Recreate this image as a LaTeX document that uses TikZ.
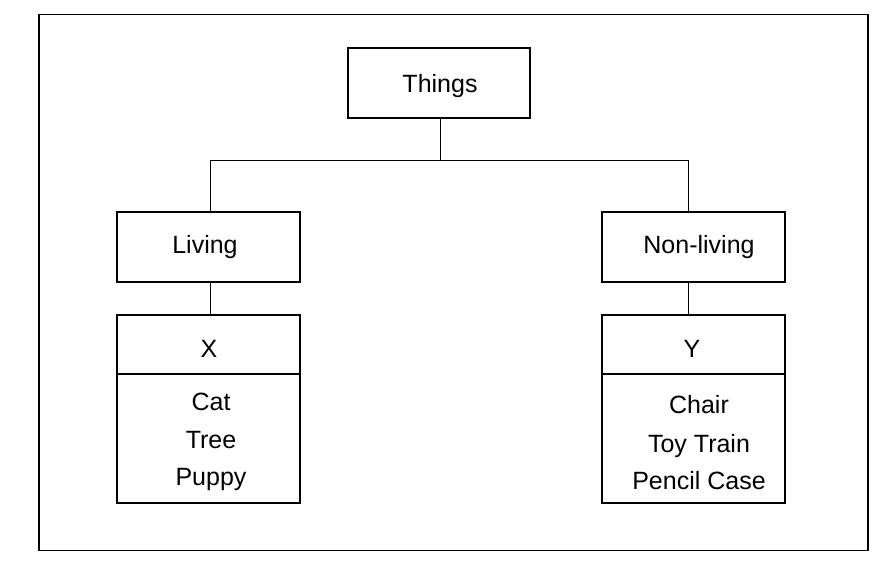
\documentclass[tikz,border=0pt]{standalone}
\usepackage{fontspec}
\setmainfont{Liberation Sans}
\begin{document}
\begin{tikzpicture}[x=1pt,y=-1pt,
  box/.style={draw,line width=2pt,rectangle,inner sep=0pt},
  lbl/.style={font=\fontsize{25}{29}\selectfont,inner sep=0pt},
  item/.style={font=\fontsize{25}{29}\selectfont,inner sep=0pt,anchor=base},
  conn/.style={line width=1pt}]
\useasboundingbox (0,0) rectangle (885,564);
\node[draw,line width=1.2pt,minimum width=829pt,minimum height=536pt,inner sep=0pt] (frame) at (453.5,282.5) {};
\node[box,minimum width=182pt,minimum height=70pt] (things) at (439,83) {};
\node[lbl] (thingst) at (440,86) {Things};
\node[box,minimum width=183pt,minimum height=70pt] (living) at (208.5,247) {};
\node[lbl] (livingt) at (205,247) {Living};
\node[box,minimum width=183pt,minimum height=70pt] (nonliving) at (693.5,247) {};
\node[lbl] (nonlivingt) at (699,247) {Non-living};
\node[box,minimum width=183pt,minimum height=59pt] (xh) at (208.5,344.5) {};
\node[box,minimum width=183pt,minimum height=129pt] (xb) at (208.5,438.5) {};
\node[lbl] (xt) at (209,349) {X};
\node[item] (cat) at (211,410) {Cat};
\node[item] (tree) at (211,448) {Tree};
\node[item] (puppy) at (211,485) {Puppy};
\node[box,minimum width=183pt,minimum height=59pt] (yh) at (693.5,344.5) {};
\node[box,minimum width=183pt,minimum height=129pt] (yb) at (693.5,438.5) {};
\node[lbl] (yt) at (692,349) {Y};
\node[item] (chair) at (699,413) {Chair};
\node[item] (toy) at (699,452) {Toy Train};
\node[item] (pencil) at (699,489) {Pencil Case};
\coordinate (j) at (440,160.5);
\coordinate (lt) at (210,160.5);
\coordinate (rt) at (688.5,160.5);
\draw[conn] (things.south -| j) -- (j);
\draw[conn] (living.north -| lt) -- (lt) -- (rt) -- (nonliving.north -| rt);
\draw[conn] (living.south -| lt) -- (xh.north -| lt);
\draw[conn] (nonliving.south -| rt) -- (yh.north -| rt);
\end{tikzpicture}
\end{document}
